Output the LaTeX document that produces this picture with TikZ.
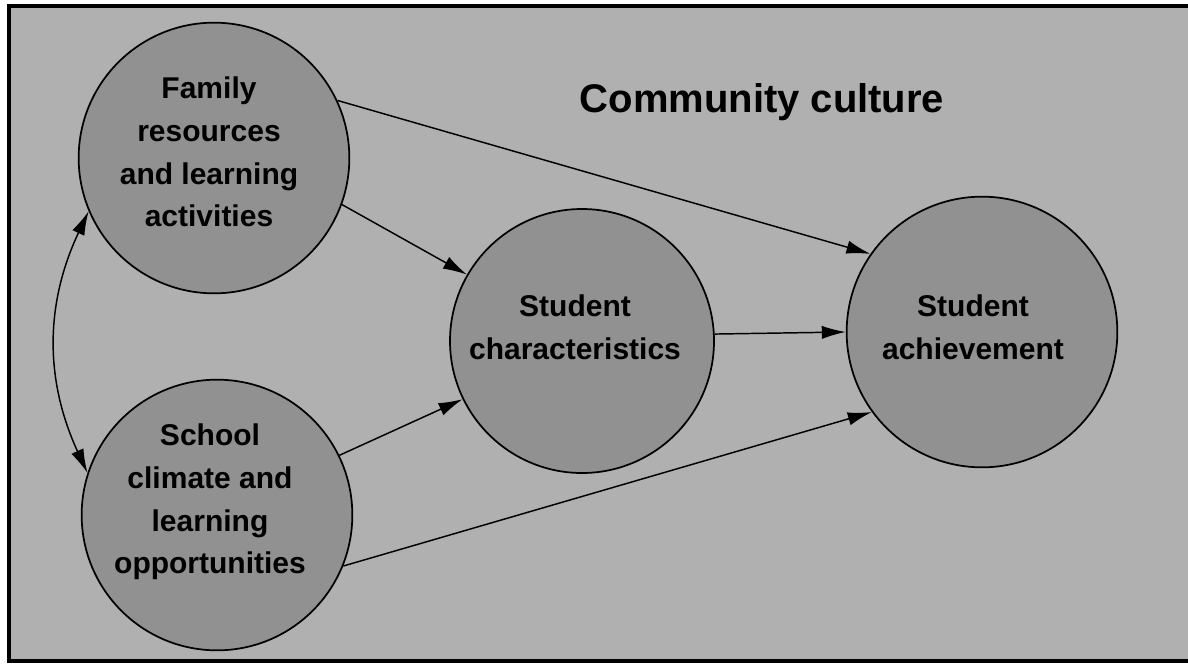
\documentclass[tikz,border=0pt]{standalone}
\usepackage{fontspec}
\setmainfont{Liberation Sans}
\usetikzlibrary{arrows.meta}

\definecolor{backgray}{RGB}{176,176,176}
\definecolor{bubblegray}{RGB}{145,145,145}

\tikzset{
  bubble/.style={circle, draw, line width=1.3pt, fill=bubblegray, inner sep=0pt, minimum size=203pt},
  bubbletext/.style={align=center, font=\bfseries\fontsize{22.5}{32}\selectfont},
  link/.style={line width=1.1pt, -{Latex[length=18pt,width=10pt]}},
}

\begin{document}
\begin{tikzpicture}[x=0.75pt,y=0.75pt,yscale=-1,xscale=1]
\useasboundingbox (0,0) rectangle (1188,665);
% Frame and shaded field
\fill [backgray] (9,6) rectangle (1188,661);
\draw [line width=2.5pt] (1188,6) -- (9,6) -- (9,661) -- (1188,661);

% Title
\node [font=\bfseries\fontsize{30}{36}\selectfont, anchor=base] (title) at (762,112) {Community culture};

% Circles
\node [bubble] (fam) at (214,158) {};
\node [bubble] (school) at (217,515) {};
\node [bubble, minimum size=198pt] (char) at (582,341) {};
\node [bubble] (ach) at (982,332) {};

% Text in the circles
\node [bubbletext] (famtext) at (209,152) {Family\\resources\\and learning\\activities};
\node [bubbletext] (schooltext) at (210,502) {School\\climate and\\learning\\opportunities};
\node [bubbletext] (chartext) at (575,327) {Student\\characteristics};
\node [bubbletext] (achtext) at (973,327) {Student\\achievement};

% Arrows
\draw [link] (fam.25) -- (ach.145);
\draw [link] (fam.-20) -- (char.150);
\draw [link] (school.26) -- (char.206);
\draw [link] (school.-22) -- (ach.216);
\draw [link] (char.3) -- (ach.west);
\draw [link, {Latex[length=18pt,width=10pt]}-{Latex[length=18pt,width=10pt]}] (fam.203) to [bend left=25] (school.162);
\end{tikzpicture}
\end{document}
